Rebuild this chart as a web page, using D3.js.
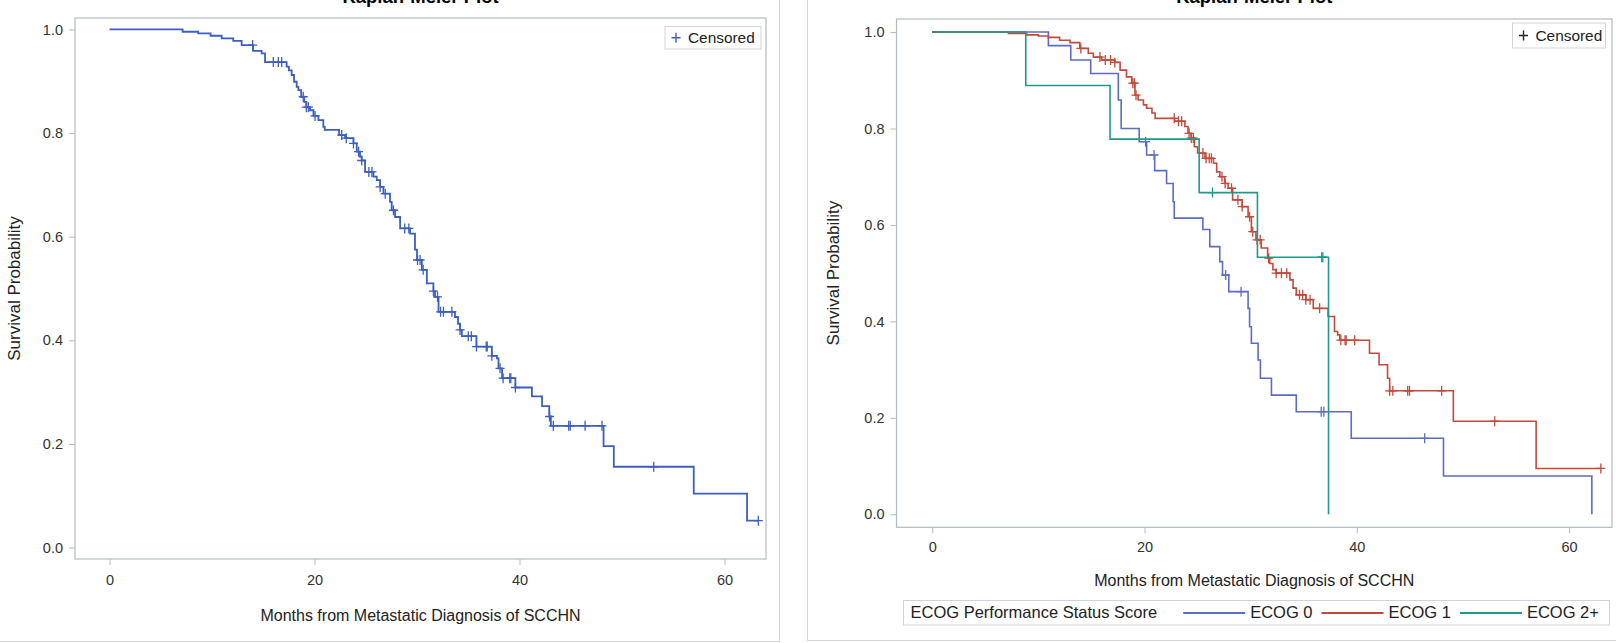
<!DOCTYPE html>
<html>
<head>
<meta charset="utf-8">
<script src="https://cdn.jsdelivr.net/npm/d3@7"></script>
<style>
  html, body { margin: 0; padding: 0; background: #fff; }
  svg { display: block; }
  text { font-family: "Liberation Sans", Arial, sans-serif; }
</style>
</head>
<body>
<script>
// ---------------- DATA ----------------
const xTicks = [0, 20, 40, 60];
const yTicks = [0, 0.2, 0.4, 0.6, 0.8, 1.0];
const chartTitle = "Kaplan-Meier Plot";
const xLabel = "Months from Metastatic Diagnosis of SCCHN";
const yLabel = "Survival Probability";
const censorLabel = "Censored";
const groupTitle = "ECOG Performance Status Score";
const groupNames = ["ECOG 0", "ECOG 1", "ECOG 2+"];

// Overall KM curve (left)
const overallTimes = [0, 7.13, 8.65, 9.86, 10.94, 12.07, 12.89, 14.0, 14.84, 15.17, 17.28, 17.5, 17.77, 18.0, 18.26, 18.42, 18.7, 19.0, 19.2, 19.56, 19.9, 20.38, 20.86, 21.0, 22.4, 22.98, 23.8, 24.12, 24.44, 24.6, 24.93, 25.75, 26.07, 26.4, 26.72, 27.37, 27.53, 27.86, 28.35, 29.33, 29.8, 30.0, 30.47, 30.96, 31.6, 31.76, 32.1, 33.7, 34.0, 34.2, 34.37, 35.8, 37.3, 37.8, 37.95, 38.3, 39.6, 41.21, 42.2, 42.9, 43.06, 48.2, 49.2, 57.0, 62.2];
const overallSurv = [1.0, 0.9955, 0.9922, 0.9877, 0.9826, 0.978, 0.9697, 0.9587, 0.9537, 0.937, 0.928, 0.921, 0.912, 0.899, 0.889, 0.883, 0.870, 0.860, 0.850, 0.844, 0.833, 0.825, 0.812, 0.806, 0.796, 0.790, 0.780, 0.764, 0.754, 0.747, 0.725, 0.716, 0.709, 0.696, 0.683, 0.667, 0.651, 0.638, 0.616, 0.606, 0.575, 0.555, 0.536, 0.510, 0.495, 0.484, 0.455, 0.445, 0.432, 0.420, 0.408, 0.388, 0.370, 0.365, 0.346, 0.327, 0.309, 0.292, 0.273, 0.253, 0.235, 0.196, 0.156, 0.104, 0.052];
const overallCensor = [13.96, 15.98, 16.47, 16.8, 18.9, 19.2, 19.4, 20.05, 22.65, 23.1, 23.8, 24.3, 24.6, 25.3, 25.6, 26.4, 26.9, 27.7, 28.8, 29.2, 30.05, 30.3, 30.6, 31.6, 32.0, 32.3, 32.58, 33.4, 34.2, 35.0, 35.3, 35.8, 36.75, 36.85, 37.3, 38.1, 38.4, 39.05, 39.15, 39.6, 42.93, 43.3, 44.8, 44.95, 46.4, 48.05, 53.1, 63.3];
const overallEnd = 63.3;

// ECOG 0
const ecog0Times = [0, 10.94, 13.05, 14.93, 17.53, 17.8, 19.5, 20.2, 20.96, 22.08, 22.7, 22.8, 25.5, 26.15, 27.09, 27.35, 27.94, 29.76, 29.9, 30.07, 30.7, 30.92, 31.96, 34.3, 39.48, 48.17, 62.15];
const ecog0Surv = [1.0, 0.9717, 0.942, 0.914, 0.859, 0.800, 0.7726, 0.745, 0.7125, 0.686, 0.648, 0.614, 0.5905, 0.555, 0.524, 0.496, 0.4616, 0.427, 0.389, 0.3545, 0.32, 0.282, 0.247, 0.2127, 0.1576, 0.0794, 0.0];
const ecog0Censor = [20.1, 20.9, 27.65, 29.1, 36.65, 36.9, 46.4];
const ecog0End = 62.15;

// ECOG 1
const ecog1Times = [0, 7.18, 8.9, 10.0, 10.94, 12.0, 12.98, 13.9, 14.7, 15.18, 15.96, 17.2, 17.7, 18.3, 18.8, 19.1, 19.4, 19.9, 20.2, 20.7, 21.0, 22.85, 23.8, 24.1, 24.4, 24.7, 25.0, 25.7, 26.5, 26.8, 27.1, 27.55, 27.88, 28.3, 29.2, 29.76, 30.07, 30.5, 31.0, 31.6, 31.8, 32.1, 32.4, 33.7, 34.0, 34.3, 35.2, 35.9, 37.3, 37.9, 38.2, 38.4, 41.2, 42.1, 42.9, 43.1, 49.1, 56.9];
const ecog1Surv = [1.0, 0.997, 0.994, 0.9917, 0.989, 0.983, 0.978, 0.966, 0.956, 0.948, 0.942, 0.937, 0.921, 0.907, 0.894, 0.869, 0.859, 0.849, 0.842, 0.832, 0.821, 0.815, 0.804, 0.790, 0.780, 0.762, 0.749, 0.738, 0.728, 0.710, 0.700, 0.686, 0.676, 0.652, 0.638, 0.617, 0.586, 0.569, 0.552, 0.531, 0.520, 0.507, 0.500, 0.486, 0.469, 0.455, 0.445, 0.427, 0.410, 0.379, 0.372, 0.361, 0.334, 0.310, 0.282, 0.256, 0.193, 0.095];
const ecog1Censor = [14.0, 15.8, 16.3, 16.8, 17.2, 18.9, 19.05, 19.2, 22.8, 23.2, 23.5, 24.2, 24.4, 24.6, 25.5, 25.8, 26.1, 26.3, 27.3, 27.6, 28.2, 28.8, 29.2, 29.9, 30.2, 30.6, 30.9, 31.7, 32.4, 32.9, 33.4, 34.6, 34.9, 35.2, 35.6, 36.5, 38.5, 38.9, 39.0, 39.8, 43.1, 43.4, 44.8, 44.97, 48.0, 53.0, 63.0];
const ecog1End = 63.0;

// ECOG 2+
const ecog2Times = [0, 8.81, 16.75, 25.15, 30.64, 37.34];
const ecog2Surv = [1.0, 0.889, 0.778, 0.667, 0.533, 0.0];
const ecog2Censor = [26.4, 36.7, 36.8];
const ecog2End = 37.34;

// ---------------- DRAWING ----------------
const W = 1616, H = 643;
const svg = d3.select("body").append("svg").attr("width", W).attr("height", H);

const FRAME = "#b3bbc1";
const TICKTXT = "#333";
const FONT = "'Liberation Sans', Arial, sans-serif";

// panel borders
svg.append("rect").attr("x", -1).attr("y", -1).attr("width", 780.5).attr("height", 642.5)
  .attr("fill", "none").attr("stroke", "#d4d4d4").attr("stroke-width", 1);
svg.append("rect").attr("x", 807.5).attr("y", -1).attr("width", 812).attr("height", 641.5)
  .attr("fill", "none").attr("stroke", "#d4d4d4").attr("stroke-width", 1);

function survAt(times, surv, t) {
  const i = d3.bisectRight(times, t) - 1;
  return surv[Math.max(0, i)];
}

function drawPanel(p) {
  const g = svg.append("g");
  const x = d3.scaleLinear().domain([-3.37, 64.05]).range([p.x0, p.x1]);
  const y = d3.scaleLinear().domain(p.yDom).range([p.y1, p.y0]);

  // title (cut off at top)
  g.append("text").attr("x", (p.x0 + p.x1) / 2).attr("y", 3)
    .attr("text-anchor", "middle").attr("font-size", 18.5).attr("font-weight", "bold")
    .attr("fill", "#000").text(chartTitle);

  // axes
  const ya = g.append("g").attr("transform", `translate(${p.x0},0)`)
    .call(d3.axisLeft(y).tickValues(yTicks).tickFormat(d3.format(".1f")).tickSize(6).tickSizeOuter(0).tickPadding(6));
  const xa = g.append("g").attr("transform", `translate(0,${p.y1})`)
    .call(d3.axisBottom(x).tickValues(xTicks).tickFormat(d3.format("d")).tickSize(6).tickSizeOuter(0).tickPadding(p.xPad));
  [ya, xa].forEach(a => {
    a.select(".domain").remove();
    a.selectAll(".tick line").attr("stroke", FRAME);
    a.selectAll(".tick text").attr("fill", TICKTXT).attr("font-size", 14.5).attr("font-family", FONT);
  });

  // frame
  g.append("rect").attr("x", p.x0).attr("y", p.y0).attr("width", p.x1 - p.x0).attr("height", p.y1 - p.y0)
    .attr("fill", "none").attr("stroke", FRAME).attr("stroke-width", 1.2);

  // axis labels
  g.append("text").attr("x", (p.x0 + p.x1) / 2).attr("y", p.xLabY)
    .attr("text-anchor", "middle").attr("font-size", 16).attr("fill", "#222").text(xLabel);
  g.append("text").attr("transform", `translate(${p.yLabX},${(p.y0 + p.y1) / 2}) rotate(-90)`)
    .attr("text-anchor", "middle").attr("font-size", 17).attr("fill", "#222").text(yLabel);

  // series
  const line = d3.line().x(d => x(d[0])).y(d => y(d[1])).curve(d3.curveStepAfter);
  p.series.forEach(s => {
    const pts = s.times.map((t, i) => [t, s.surv[i]]);
    pts.push([s.end, s.surv[s.surv.length - 1]]);
    g.append("path").attr("d", line(pts)).attr("fill", "none")
      .attr("stroke", s.color).attr("stroke-width", p.lw);
    g.selectAll(null).data(s.censor).enter().append("path")
      .attr("transform", t => `translate(${x(t)},${y(survAt(s.times, s.surv, t))})`)
      .attr("d", "M-4.5,0H4.5M0,-5V5").attr("stroke", s.color).attr("stroke-width", 1.3).attr("fill", "none");
  });

  // censored legend
  const lg = g.append("g");
  lg.append("rect").attr("x", p.lx).attr("y", p.ly).attr("width", p.lw2).attr("height", p.lh)
    .attr("fill", "#fff").attr("stroke", "#d0d4d8");
  lg.append("path").attr("transform", `translate(${p.lx + 11},${p.ly + p.lh / 2})`)
    .attr("d", "M-4.5,0H4.5M0,-5V5").attr("stroke", p.plusColor).attr("stroke-width", 1.4);
  lg.append("text").attr("x", p.lx + 23).attr("y", p.ly + p.lh / 2 + 5.5)
    .attr("font-size", 15.4).attr("fill", "#222").text(censorLabel);

  return { x, y };
}

// left panel
drawPanel({
  x0: 75, x1: 766, y0: 18, y1: 559, yDom: [-0.022, 1.022], xPad: 10,
  xLabY: 621, yLabX: 20, lw: 1.8,
  lx: 665, ly: 26.5, lw2: 96, lh: 22.5, plusColor: "#3c5fbf",
  series: [{ times: overallTimes, surv: overallSurv, censor: overallCensor, end: overallEnd, color: "#3c5fbf" }]
});

// right panel
const groupColors = ["#5b6cc4", "#c24a3c", "#21998a"];
drawPanel({
  x0: 896.5, x1: 1612, y0: 19, y1: 527.3, yDom: [-0.027, 1.027], xPad: 8,
  xLabY: 586, yLabX: 839, lw: 1.6,
  lx: 1512.5, ly: 23, lw2: 93, lh: 25, plusColor: "#222",
  series: [
    { times: ecog0Times, surv: ecog0Surv, censor: ecog0Censor, end: ecog0End, color: groupColors[0] },
    { times: ecog1Times, surv: ecog1Surv, censor: ecog1Censor, end: ecog1End, color: groupColors[1] },
    { times: ecog2Times, surv: ecog2Surv, censor: ecog2Censor, end: ecog2End, color: groupColors[2] }
  ]
});

// bottom group legend
const bl = svg.append("g");
bl.append("rect").attr("x", 903.5).attr("y", 600.5).attr("width", 706).attr("height", 24.5)
  .attr("fill", "#fff").attr("stroke", "#d0d4d8");
let cx = 910.5;
const ty = 618;
const tt = bl.append("text").attr("x", cx).attr("y", ty).attr("font-size", 16.5).attr("fill", "#222").text(groupTitle);
cx += tt.node().getComputedTextLength() + 26;
groupNames.forEach((n, i) => {
  bl.append("line").attr("x1", cx).attr("x2", cx + 62).attr("y1", 613).attr("y2", 613)
    .attr("stroke", groupColors[i]).attr("stroke-width", 1.8);
  cx += 67;
  const t = bl.append("text").attr("x", cx).attr("y", ty).attr("font-size", 16.5).attr("fill", "#222").text(n);
  cx += t.node().getComputedTextLength() + 9;
});
</script>
</body>
</html>
